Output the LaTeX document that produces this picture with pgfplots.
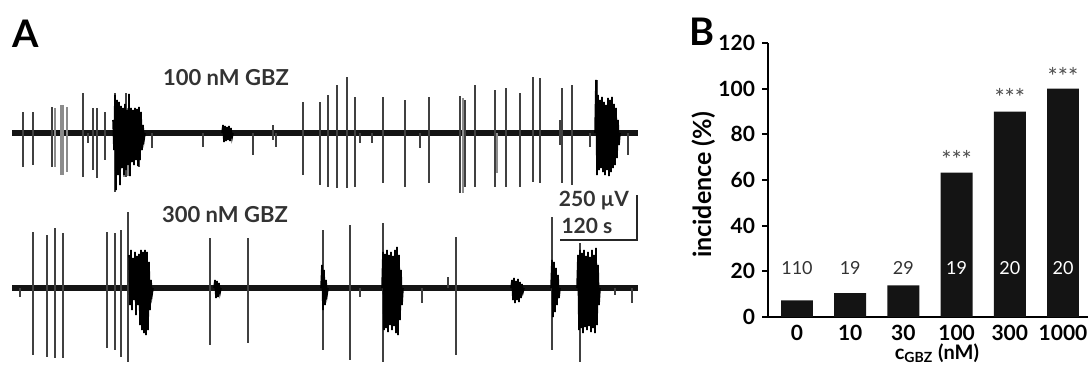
\documentclass[border=0pt]{standalone}
\usepackage{pgfplots}
\pgfplotsset{compat=1.18}
\usepackage{fontspec}
\setmainfont{Lato}
\begin{document}
\begin{tikzpicture}
\useasboundingbox (0,0) rectangle (544pt,182.5pt);
% ---------------- Panel A ----------------
\begin{axis}[hide axis, x=0.5pt, y=0.5pt, xmin=0, xmax=680, ymin=0, ymax=365,
  y dir=reverse, at={(0,0)}, anchor=south west, clip=false, unbounded coords=jump]
% baselines
\addplot[line width=2.6pt, black!92] coordinates {(12,133)(638,133)};
\addplot[line width=2.6pt, black!92] coordinates {(12,288)(638,288)};
% upper spikes
\addplot[line width=0.6pt, black!75] coordinates {
(23,112)(23,167)(23,nan) (33,112)(33,165)(33,nan) (52,107)(52,167)(52,nan)
(83,93)(83,177)(83,nan) (88,133)(88,143)(88,nan) (93,108)(93,170)(93,nan)
(97,108)(97,178)(97,nan) (105,112)(105,160)(105,nan) (115,93)(115,192)(115,nan)
(126,93)(126,177)(126,nan) (139,107)(139,167)(139,nan) (152,133)(152,148)(152,nan)
(203,133)(203,147)(203,nan) (253,133)(253,155)(253,nan) (273,125)(273,140)(273,nan)
(276,133)(276,147)(276,nan) (303,102)(303,175)(303,nan) (320,102)(320,185)(320,nan)
(328,95)(328,187)(328,nan) (337,85)(337,188)(337,nan) (347,77)(347,188)(347,nan)
(355,97)(355,187)(355,nan) (360,133)(360,143)(360,nan) (372,133)(372,143)(372,nan)
(383,97)(383,183)(383,nan) (405,100)(405,187)(405,nan) (420,133)(420,148)(420,nan)
(429,97)(429,183)(429,nan) (460,96)(460,193)(460,nan) (465,100)(465,187)(465,nan)
(475,85)(475,187)(475,nan) (495,90)(495,187)(495,nan) (506,88)(506,187)(506,nan)
(520,93)(520,187)(520,nan) (533,77)(533,182)(533,nan) (540,78)(540,183)(540,nan)
(560,120)(560,145)(560,nan) (562,88)(562,183)(562,nan) (572,85)(572,185)(572,nan)
(590,133)(590,147)(590,nan) (597,80)(597,175)(597,nan) (628,133)(628,155)(628,nan)
};
\addplot[line width=0.7pt, black!45] coordinates {
(55,108)(55,167)(55,nan) (61,105)(61,175)(61,nan) (63,105)(63,175)(63,nan)
(67,107)(67,172)(67,nan) (463,98)(463,193)(463,nan) (497,133)(497,173)(497,nan)
(124,110)(124,177)(124,nan) (128,108)(128,176)(128,nan)
};
% upper bursts
\addplot[line width=0.8pt, black] coordinates {
(113,120)(114,150)(115,95)(116,190)(117,100)(118,175)(119,102)(120,185)(121,106)(122,168)
(123,108)(124,175)(125,104)(126,170)(127,110)(128,165)(129,94)(130,176)(131,108)(132,162)
(133,110)(134,165)(135,108)(136,160)(137,109)(138,166)(139,107)(140,160)(141,112)(142,150)
(143,125)(144,140)(145,133)};
\addplot[line width=0.8pt, black] coordinates {
(222,133)(223,125)(224,142)(225,126)(226,141)(227,127)(228,140)(229,126)(230,141)(231,128)(232,138)(233,133)};
\addplot[line width=0.8pt, black] coordinates {
(595,133)(596,80)(597,175)(598,95)(599,170)(600,100)(601,168)(602,97)(603,172)(604,102)
(605,175)(606,105)(607,170)(608,98)(609,176)(610,100)(611,172)(612,97)(613,168)(614,104)
(615,165)(616,108)(617,158)(618,120)(619,145)(620,133)};
% lower spikes
\addplot[line width=0.6pt, black!75] coordinates {
(20,288)(20,297)(20,nan) (33,232)(33,355)(33,nan) (47,235)(47,357)(47,nan)
(55,228)(55,358)(55,nan) (63,233)(63,358)(63,nan) (107,232)(107,348)(107,nan)
(115,233)(115,350)(115,nan) (121,230)(121,357)(121,nan) (128,212)(128,362)(128,nan)
(210,238)(210,345)(210,nan) (248,238)(248,343)(248,nan) (323,230)(323,350)(323,nan)
(350,225)(350,360)(350,nan) (360,288)(360,297)(360,nan) (383,223)(383,362)(383,nan)
(422,288)(422,303)(422,nan) (448,277)(448,288)(448,nan) (456,237)(456,355)(456,nan)
(552,217)(552,350)(552,nan) (580,243)(580,362)(580,nan) (615,288)(615,295)(615,nan)
(632,288)(632,303)(632,nan)
};
% lower bursts
\addplot[line width=0.8pt, black] coordinates {
(129,255)(130,305)(131,250)(132,310)(133,258)(134,300)(135,252)(136,315)(137,256)(138,305)
(139,254)(140,325)(141,250)(142,330)(143,252)(144,333)(145,250)(146,335)(147,252)(148,330)
(149,262)(150,310)(151,280)(152,295)(153,288)};
\addplot[line width=0.8pt, black] coordinates {
(214,288)(215,280)(216,298)(217,281)(218,297)(219,283)(220,293)(221,288)};
\addplot[line width=0.8pt, black] coordinates {
(321,288)(322,265)(323,310)(324,270)(325,305)(326,280)(327,295)(328,288)};
\addplot[line width=0.8pt, black] coordinates {
(382,288)(383,252)(384,330)(385,254)(386,328)(387,250)(388,332)(389,255)(390,325)(391,252)
(392,330)(393,256)(394,326)(395,250)(396,333)(397,247)(398,335)(399,255)(400,320)(401,270)
(402,305)(403,288)};
\addplot[line width=0.8pt, black] coordinates {
(511,288)(512,280)(513,300)(514,278)(515,303)(516,281)(517,300)(518,279)(519,302)(520,282)
(521,298)(522,284)(523,292)(524,288)};
\addplot[line width=0.8pt, black] coordinates {
(551,288)(552,260)(553,317)(554,262)(555,312)(556,268)(557,305)(558,275)(559,298)(560,288)};
\addplot[line width=0.8pt, black] coordinates {
(577,288)(578,255)(579,330)(580,250)(581,328)(582,253)(583,333)(584,250)(585,327)(586,256)
(587,330)(588,252)(589,326)(590,257)(591,332)(592,250)(593,328)(594,255)(595,333)(596,248)
(597,325)(598,265)(599,305)(600,288)};
% scale bar
\addplot[line width=1.4pt, black!85] coordinates {(560,240)(637,240)(637,195)};
\node[font=\fontsize{11}{12}\selectfont\bfseries, text=black!80] at (axis cs:226,78) {100 nM GBZ};
\node[font=\fontsize{11}{12}\selectfont\bfseries, text=black!80] at (axis cs:225,215) {300 nM GBZ};
\node[font=\fontsize{10.5}{11}\selectfont\bfseries, text=black!80] at (axis cs:594,201) {250 µV};
\node[font=\fontsize{10.5}{11}\selectfont\bfseries, text=black!80] at (axis cs:587,226) {120 s};
\end{axis}
% ---------------- Panel B ----------------
\begin{axis}[at={(384pt,24pt)}, anchor=south west, scale only axis, width=160pt, height=137pt,
  xmin=-0.545, xmax=5.47, ymin=0, ymax=120,
  axis x line*=bottom, axis y line*=left, axis line style={line width=1pt, black},
  ytick={0,20,...,120}, xtick={0,...,5}, xticklabels={0,10,30,100,300,1000},
  x tick style={draw=none}, y tick style={line width=1pt, black}, tick align=outside, major tick length=3pt,
  /pgf/number format/assume math mode=true,
  yticklabel style={font=\fontsize{10.5}{11}\selectfont\bfseries},
  xticklabel style={font=\fontsize{10.5}{11}\selectfont\bfseries, yshift=2.5pt},
  ylabel={incidence (\%)},
  ylabel style={at={(axis description cs:-0.2,0.482)}, anchor=center, font=\fontsize{12.5}{13}\selectfont\bfseries},
  xlabel={c\textsubscript{GBZ} (nM)},
  xlabel style={at={(axis description cs:0.528,-0.168)}, anchor=south, inner sep=0pt, font=\fontsize{10}{11}\selectfont\bfseries},
  ybar, bar width=0.6, clip=false]
\addplot[fill=black!92, draw=none] coordinates {(0,7.3)(1,10.5)(2,13.8)(3,63.2)(4,90)(5,100)};
\node[font=\fontsize{9}{9}\selectfont, text=black!80] at (axis cs:0,21.5) {110};
\node[font=\fontsize{9}{9}\selectfont, text=black!80] at (axis cs:1,21.5) {19};
\node[font=\fontsize{9}{9}\selectfont, text=black!80] at (axis cs:2,21.5) {29};
\node[font=\fontsize{9}{9}\selectfont, text=white] at (axis cs:3,21.5) {19};
\node[font=\fontsize{9}{9}\selectfont, text=white] at (axis cs:4,21.5) {20};
\node[font=\fontsize{9}{9}\selectfont, text=white] at (axis cs:5,21.5) {20};
\node[font=\fontsize{12}{12}\selectfont, text=black!70] at (axis cs:3,69) {***};
\node[font=\fontsize{12}{12}\selectfont, text=black!70] at (axis cs:4,96) {***};
\node[font=\fontsize{12}{12}\selectfont, text=black!70] at (axis cs:5,105.5) {***};
\end{axis}
\node[font=\fontsize{19}{19}\selectfont\bfseries] at (13pt,165.5pt) {A};
\node[font=\fontsize{19}{19}\selectfont\bfseries] at (351pt,166.5pt) {B};
\end{tikzpicture}
\end{document}
